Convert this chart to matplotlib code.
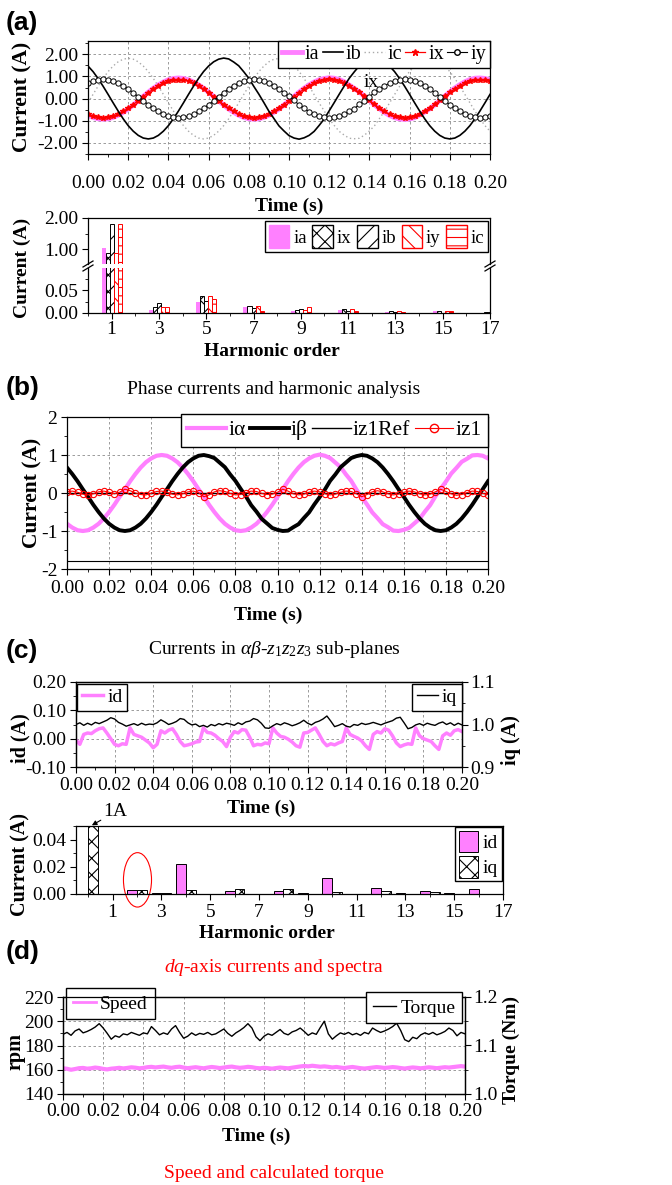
import numpy as np
import matplotlib.pyplot as plt
from matplotlib.ticker import MultipleLocator, FormatStrFormatter
from matplotlib.patches import Ellipse, Patch
from matplotlib.lines import Line2D

# ---- data ----
# (a) phase currents, one sample every 2.5 ms
ia = [-0.75, -0.85, -0.91, -0.93, -0.91, -0.85, -0.75, -0.62, -0.47, -0.29, -0.10, 0.10, 0.29, 0.47, 0.62, 0.75, 0.85, 0.91,
      0.93, 0.91, 0.85, 0.75, 0.62, 0.47, 0.29, 0.10, -0.10, -0.29, -0.47, -0.62, -0.75, -0.85, -0.91, -0.93, -0.91, -0.85,
      -0.75, -0.62, -0.47, -0.29, -0.10, 0.10, 0.29, 0.47, 0.62, 0.75, 0.85, 0.91,
      0.94, 0.92, 0.86, 0.76, 0.61, 0.46, 0.30, 0.11, -0.09, -0.28, -0.46, -0.62, -0.76, -0.86, -0.92, -0.94, -0.92, -0.86,
      -0.74, -0.61, -0.46, -0.28, -0.09, 0.11, 0.30, 0.48, 0.63, 0.76, 0.86, 0.92,
      0.93, 0.91, 0.85]
ix = [-0.70, -0.79, -0.84, -0.86, -0.84, -0.79, -0.70, -0.58, -0.43, -0.27, -0.09, 0.09, 0.27, 0.43, 0.58, 0.70, 0.79, 0.84,
      0.86, 0.84, 0.79, 0.70, 0.58, 0.43, 0.27, 0.09, -0.09, -0.27, -0.43, -0.58, -0.70, -0.79, -0.84, -0.86, -0.84, -0.79,
      -0.70, -0.58, -0.43, -0.27, -0.09, 0.09, 0.27, 0.43, 0.58, 0.70, 0.79, 0.84,
      0.87, 0.85, 0.79, 0.71, 0.57, 0.42, 0.28, 0.10, -0.08, -0.26, -0.43, -0.57, -0.71, -0.80, -0.85, -0.87, -0.85, -0.80,
      -0.69, -0.57, -0.42, -0.26, -0.08, 0.10, 0.28, 0.44, 0.59, 0.71, 0.80, 0.85,
      0.86, 0.84, 0.79]
ib = [1.47, 1.22, 0.91, 0.56, 0.19, -0.19, -0.56, -0.91, -1.22, -1.47, -1.66, -1.78, -1.82, -1.78, -1.66, -1.47, -1.22,
      -0.91, -0.56, -0.19, 0.19, 0.56, 0.91, 1.22, 1.47, 1.66, 1.78,
      1.83, 1.79, 1.65, 1.48, 1.21, 0.92, 0.55, 0.20, -0.18, -0.57, -0.90, -1.23, -1.46, -1.67, -1.78, -1.83, -1.77, -1.66,
      -1.48, -1.21, -0.92, -0.55, -0.18, 0.20, 0.57, 0.92, 1.21, 1.48, 1.65, 1.79,
      1.82, 1.78, 1.66, 1.47, 1.22, 0.91, 0.56, 0.19, -0.19, -0.56, -0.91, -1.22, -1.47, -1.66, -1.78, -1.82, -1.78, -1.66,
      -1.47, -1.22, -0.91, -0.56, -0.19, 0.19]
ic = [-0.19, 0.19, 0.56, 0.91, 1.22, 1.47, 1.66, 1.78,
      1.82, 1.78, 1.66, 1.47, 1.22, 0.91, 0.56, 0.19, -0.19, -0.56, -0.91, -1.22, -1.47, -1.66, -1.78, -1.82, -1.78, -1.66,
      -1.47, -1.22, -0.91, -0.56, -0.19, 0.19, 0.56, 0.91, 1.22, 1.47, 1.66, 1.78,
      1.81, 1.77, 1.67, 1.46, 1.23, 0.90, 0.57, 0.18, -0.20, -0.55, -0.92, -1.21, -1.48, -1.65, -1.79, -1.81, -1.79, -1.65,
      -1.46, -1.23, -0.90, -0.57, -0.20, 0.18, 0.55, 0.92, 1.23, 1.46, 1.67, 1.77,
      1.82, 1.78, 1.66, 1.47, 1.22, 0.91, 0.56, 0.19, -0.19, -0.56, -0.91, -1.22, -1.47]
iy = [0.70, 0.79, 0.85,
      0.87, 0.85, 0.79, 0.70, 0.58, 0.44, 0.27, 0.09, -0.09, -0.27, -0.44, -0.58, -0.70, -0.79, -0.85, -0.87, -0.85, -0.79,
      -0.70, -0.58, -0.44, -0.27, -0.09, 0.09, 0.27, 0.44, 0.58, 0.70, 0.79, 0.85,
      0.88, 0.86, 0.78, 0.71, 0.57, 0.45, 0.26, 0.10, -0.08, -0.28, -0.43, -0.59, -0.69, -0.80, -0.84, -0.88, -0.84, -0.80,
      -0.71, -0.57, -0.45, -0.26, -0.10, 0.08, 0.28, 0.43, 0.59, 0.69, 0.80, 0.86,
      0.87, 0.85, 0.79, 0.70, 0.58, 0.44, 0.27, 0.09, -0.09, -0.27, -0.44, -0.58, -0.70, -0.79, -0.85, -0.87, -0.85, -0.79]

# (a) harmonic spectrum
harm_a = [1, 3, 5, 7, 9, 11, 13, 15, 17]
ia_h = [1.03, 0.007, 0.025, 0.013, 0.005, 0.007, 0.003, 0.004, 0.0005]
ix_h = [0.88, 0.013, 0.037, 0.016, 0.007, 0.009, 0.005, 0.004, 0.003]
ib_h = [1.82, 0.021, 0.027, 0.011, 0.009, 0.005, 0.002, 0.001, 0.003]
iy_h = [0.88, 0.013, 0.037, 0.016, 0.007, 0.009, 0.005, 0.004, 0.001]
ic_h = [1.82, 0.014, 0.030, 0.004, 0.013, 0.004, 0.003, 0.004, 0.0005]

# (b) alpha-beta / z1 currents
i_alpha = [-0.81, -0.91, -0.98, -1.00, -0.98, -0.91, -0.81, -0.67, -0.50, -0.31, -0.10, 0.10, 0.31, 0.50, 0.67, 0.81, 0.91, 0.98,
           1.00, 0.98, 0.91, 0.81, 0.67, 0.50, 0.31, 0.10, -0.10, -0.31, -0.50, -0.67, -0.81, -0.91, -0.98, -1.00, -0.98, -0.91,
           -0.81, -0.67, -0.50, -0.31, -0.10, 0.10, 0.31, 0.50, 0.67, 0.81, 0.91, 0.98,
           1.01, 0.98, 0.92, 0.80, 0.68, 0.49, 0.32, 0.09, -0.11, -0.30, -0.51, -0.66, -0.82, -0.90, -0.99, -1.00, -0.97, -0.92,
           -0.80, -0.68, -0.49, -0.32, -0.09, 0.11, 0.30, 0.51, 0.66, 0.82, 0.90, 0.99,
           1.00, 0.98, 0.91]
i_beta = [0.67, 0.50, 0.31, 0.10, -0.10, -0.31, -0.50, -0.67, -0.81, -0.91, -0.98, -1.00, -0.98, -0.91, -0.81, -0.67, -0.50,
          -0.31, -0.10, 0.10, 0.31, 0.50, 0.67, 0.81, 0.91, 0.98,
          1.00, 0.97, 0.92, 0.80, 0.68, 0.49, 0.32, 0.11, -0.09, -0.32, -0.49, -0.68, -0.80, -0.92, -0.97, -1.00, -0.99, -0.90,
          -0.82, -0.66, -0.51, -0.30, -0.11, 0.09, 0.32, 0.49, 0.68, 0.80, 0.92, 0.97,
          1.00, 0.98, 0.91, 0.81, 0.67, 0.50, 0.31, 0.10, -0.10, -0.31, -0.50, -0.67, -0.81, -0.91, -0.98, -1.00, -0.98, -0.91,
          -0.81, -0.67, -0.50, -0.31, -0.10, 0.10, 0.31]
iz1 = [0.03, 0.05, 0.02, -0.03, -0.05, -0.02, 0.03, 0.05, 0.02, -0.02, 0.02,
       0.10, 0.06, 0.00, -0.04, -0.05, -0.01, 0.04, 0.05, 0.02, -0.03, -0.05, -0.02, 0.03, 0.05, 0.01,
       -0.10, -0.05, 0.03, 0.06, 0.04, -0.01, -0.05, -0.04, 0.01, 0.05, 0.04, -0.01, -0.04, -0.03, 0.02,
       0.10, 0.05, -0.02, -0.05, -0.03, 0.02, 0.05, 0.03, -0.02, -0.05, -0.03, 0.02, 0.05, 0.04, -0.02,
       -0.10, -0.04, 0.03, 0.06, 0.03, -0.02, -0.05, -0.03, 0.02, 0.05, 0.03, -0.02, -0.05, -0.03, 0.03,
       0.10, 0.04, -0.02, -0.06, -0.04, 0.01, 0.05, 0.04, -0.01, -0.04]
iz1_ref = [0.0] * 81

# (c) dq currents, one sample every 2 ms
id_t = [-0.005, -0.020, 0.015, 0.020, 0.018, 0.028, 0.035, 0.038, 0.020, 0.000,
        -0.020, -0.025, -0.018, -0.020, 0.038, 0.015, 0.010, 0.005, -0.005, -0.015,
        -0.032, -0.020, 0.028, 0.020, 0.030, 0.035, 0.015, -0.010, -0.025, -0.022,
        -0.018, -0.012, -0.010, 0.038, 0.022, 0.020, 0.012, 0.000, -0.010, -0.028,
        0.005, 0.025, 0.020, 0.032, 0.030, 0.005, -0.025, -0.020, -0.022, -0.015,
        -0.018, 0.038, 0.020, 0.008, 0.005, -0.002, -0.012, -0.025, -0.030, 0.020,
        0.022, 0.030, 0.038, 0.015, -0.010, -0.025, -0.018, -0.022, -0.015, -0.010,
        0.038, 0.015, 0.008, 0.002, -0.008, -0.025, -0.038, 0.015, 0.025, 0.020,
        0.035, 0.030, 0.010, -0.015, -0.028, -0.022, -0.018, -0.020, 0.038, 0.010,
        0.000, -0.005, -0.010, -0.025, -0.038, 0.010, 0.020, 0.012, 0.028, 0.032,
        0.025]
iq_t = [1.000, 1.004, 0.998, 1.003, 0.999, 1.005, 1.002, 1.006, 1.010, 1.016,
        1.013, 1.005, 1.001, 0.996, 0.999, 1.002, 0.998, 1.003, 0.999, 1.001,
        1.000, 1.004, 1.011, 1.006, 1.000, 1.003, 1.007, 1.014, 1.012, 1.004,
        0.999, 1.001, 0.995, 0.998, 0.994, 1.000, 0.997, 1.002, 0.999, 1.003,
        1.001, 0.998, 1.004, 1.000, 1.006, 1.008, 1.014, 1.011, 1.003, 0.992,
        0.991, 0.997, 1.002, 0.999, 1.004, 1.001, 0.997, 1.000, 1.004, 1.010,
        1.003, 0.999, 1.005, 1.008, 1.013, 1.020, 1.008, 0.995, 0.998, 1.002,
        0.996, 0.994, 1.000, 0.998, 1.003, 1.000, 1.002, 1.005, 1.002, 0.999,
        1.003, 1.006, 1.009, 1.015, 1.017, 1.004, 0.990, 0.993, 0.999, 1.002,
        0.998, 1.003, 1.000, 0.998, 1.003, 1.006, 1.000, 1.004, 0.998, 1.003,
        0.999]

# (c) dq spectrum
harm_c = list(range(17))
id_h = [0.0, 0.0003, 0.0032, 0.001, 0.0222, 0.0, 0.0022, 0.0, 0.0025, 0.001, 0.0114, 0.0, 0.0047, 0.001, 0.0025, 0.0007, 0.0037]
iq_h = [1.0, 0.0003, 0.0027, 0.0005, 0.003, 0.0, 0.004, 0.0, 0.0035, 0.0, 0.0015, 0.0, 0.0025, 0.0, 0.0012, 0.0, 0.0]

# (d) speed and torque
speed = [161.2, 160.8, 160.0, 160.6, 161.3, 161.5, 160.9, 161.2, 161.8, 161.4,
         160.7, 160.3, 160.9, 161.2, 161.6, 161.1, 161.5, 162.0, 161.7, 161.2,
         161.5, 162.1, 162.4, 161.9, 162.3, 162.6, 162.0, 161.6, 162.2, 162.5,
         161.8, 161.3, 161.7, 162.1, 161.6, 161.2, 161.8, 162.3, 161.9, 161.4,
         161.8, 162.3, 162.6, 162.0, 161.6, 161.9, 162.4, 162.1, 161.5, 161.2,
         161.6, 161.3, 160.9, 161.4, 161.8, 161.5, 161.2, 161.7, 162.2, 162.7,
         163.1, 162.8, 163.3, 162.9, 162.5, 162.8, 162.4, 161.9, 162.3, 161.8,
         161.4, 161.9, 162.3, 161.8, 161.3, 161.0, 161.4, 161.8, 162.2, 161.9,
         161.5, 161.8, 162.2, 161.9, 161.4, 161.0, 161.5, 161.9, 161.6, 161.2,
         161.6, 162.0, 161.7, 161.3, 161.7, 162.1, 161.8, 162.2, 162.6, 163.0,
         162.6]
torque = [1.123, 1.127, 1.121, 1.130, 1.134, 1.126, 1.129, 1.133, 1.138, 1.145,
          1.136, 1.125, 1.113, 1.120, 1.117, 1.124, 1.122, 1.127, 1.124, 1.121,
          1.126, 1.124, 1.139, 1.131, 1.122, 1.126, 1.123, 1.134, 1.141, 1.127,
          1.115, 1.119, 1.126, 1.121, 1.125, 1.123, 1.127, 1.122, 1.124, 1.129,
          1.134, 1.125, 1.119, 1.126, 1.131, 1.137, 1.145, 1.136, 1.118, 1.110,
          1.119, 1.124, 1.121, 1.127, 1.133, 1.125, 1.122, 1.128, 1.131, 1.136,
          1.129, 1.121, 1.126, 1.123, 1.137, 1.150, 1.124, 1.113, 1.120, 1.126,
          1.123, 1.127, 1.122, 1.125, 1.121, 1.127, 1.124, 1.136, 1.131, 1.127,
          1.130, 1.134, 1.139, 1.146, 1.131, 1.112, 1.108, 1.117, 1.114, 1.122,
          1.126, 1.123, 1.127, 1.122, 1.125, 1.129, 1.136, 1.131, 1.120, 1.127,
          1.124]

t_a = np.linspace(0, 0.2, len(ia))
t_n = np.linspace(0, 0.2, len(id_t))

# ---- style ----
W, H = 672, 1185
PINK = '#ff80ff'
RED = '#ff0000'
TICK = 14

plt.rcParams['font.family'] = ['Liberation Serif', 'DejaVu Serif']
plt.rcParams['mathtext.fontset'] = 'custom'
plt.rcParams['mathtext.rm'] = 'Liberation Serif'
plt.rcParams['mathtext.it'] = 'Liberation Serif:italic'
plt.rcParams['axes.unicode_minus'] = False
plt.rcParams['axes.linewidth'] = 0.9
plt.rcParams['legend.fancybox'] = False
plt.rcParams['legend.edgecolor'] = 'black'
plt.rcParams['legend.framealpha'] = 1
plt.rcParams['hatch.linewidth'] = 0.8


def box(l, t, r, b):
    return [l / W, 1 - b / H, (r - l) / W, (b - t) / H]


def fpt(x, y):
    return x / W, 1 - y / H


def ticks(ax, pad=3.0):
    ax.tick_params(which='major', direction='out', length=4, width=0.8, labelsize=TICK, pad=pad)
    ax.tick_params(which='minor', direction='out', length=2, width=0.6)


def grid(ax):
    ax.grid(True, which='major', color='0.55', linestyle=(0, (3, 3)), linewidth=0.6)


def xlab(ax, text, x, y, size=14):
    ax.set_xlabel(text, fontsize=size, fontweight='bold')
    ax.xaxis.set_label_coords(*fpt(x, y), transform=fig.transFigure)
    ax.xaxis.label.set_va('center')


def ylab(ax, text, x, y, size=14.5):
    ax.set_ylabel(text, fontsize=size, fontweight='bold')
    ax.yaxis.set_label_coords(*fpt(x, y), transform=fig.transFigure)
    ax.yaxis.label.set_va('center')
    ax.yaxis.label.set_rotation(90)


fig = plt.figure(figsize=(W / 100, H / 100), dpi=100)

# ---- (a) phase currents ----
ax = fig.add_axes(box(88, 41, 490, 154))
ax.plot(t_a, ic, color='#aaaaaa', lw=1.0, ls=(0, (1, 2)), label='ic')
ax.plot(t_a, ia, color=PINK, lw=3.5, label='ia')
ax.plot(t_a, ix, color=RED, lw=0.9, marker='*', ms=4, label='ix')
ax.plot(t_a, ib, color='k', lw=1.2, label='ib')
ax.plot(t_a, iy, color='k', lw=0.8, marker='o', ms=3.8, mfc='white', mec='k', mew=0.7, label='iy')
ax.text(0.141, 0.74, 'ix', fontsize=14, ha='center', va='center')
ax.set_xlim(0, 0.2)
ax.set_ylim(-2.5, 2.6)
ax.xaxis.set_major_locator(MultipleLocator(0.02))
ax.xaxis.set_minor_locator(MultipleLocator(0.01))
ax.yaxis.set_major_locator(MultipleLocator(1))
ax.yaxis.set_minor_locator(MultipleLocator(0.5))
ax.xaxis.set_major_formatter(FormatStrFormatter('%.2f'))
ax.yaxis.set_major_formatter(FormatStrFormatter('%.2f'))
ticks(ax)
ax.tick_params(axis='x', which='major', pad=11)
grid(ax)
hs = [Line2D([], [], color=PINK, lw=3.5),
      Line2D([], [], color='k', lw=1.2),
      Line2D([], [], color='#aaaaaa', lw=1.0, ls=(0, (1, 2))),
      Line2D([], [], color=RED, lw=0.9, marker='*', ms=5),
      Line2D([], [], color='k', lw=0.8, marker='o', ms=4, mfc='white')]
ax.legend(hs, ['ia', 'ib', 'ic', 'ix', 'iy'], loc='upper right', bbox_to_anchor=(1, 1), borderaxespad=0,
          ncol=5, fontsize=14.5, handlelength=1.0, handletextpad=0.15, columnspacing=0.15, borderpad=0.2)
xlab(ax, 'Time (s)', 289, 206)
ylab(ax, 'Current (A)', 22, 97, size=15.5)

# ---- (a) harmonic spectrum with broken axis ----
ax_u = fig.add_axes(box(88, 218, 490, 264))
ax_l = fig.add_axes(box(88, 268, 490, 313))
bw = 0.17
bar_specs = [(ia_h, dict(color=PINK, linewidth=0)),
             (ix_h, dict(facecolor='white', edgecolor='k', hatch='xx', linewidth=0.7)),
             (ib_h, dict(facecolor='white', edgecolor='k', hatch='//', linewidth=0.7)),
             (iy_h, dict(facecolor='white', edgecolor=RED, hatch='\\\\', linewidth=0.7)),
             (ic_h, dict(facecolor='white', edgecolor=RED, hatch='--', linewidth=0.7))]
for a in (ax_u, ax_l):
    for j, (vals, kw) in enumerate(bar_specs):
        a.bar(np.array(harm_a) + (j - 2) * bw, vals, width=bw, **kw)
    a.set_xlim(0, 17)
    a.set_xticks(harm_a)
    a.set_xticks(range(0, 18, 2), minor=True)
    ticks(a)
ax_u.set_ylim(0.52, 2.0)
ax_u.yaxis.set_major_locator(MultipleLocator(1))
ax_u.yaxis.set_minor_locator(MultipleLocator(0.5))
ax_u.yaxis.set_major_formatter(FormatStrFormatter('%.2f'))
ax_u.spines['bottom'].set_visible(False)
ax_u.tick_params(axis='x', which='both', bottom=False, labelbottom=False)
ax_l.set_ylim(0, 0.098)
ax_l.yaxis.set_major_locator(MultipleLocator(0.05))
ax_l.yaxis.set_minor_locator(MultipleLocator(0.025))
ax_l.yaxis.set_major_formatter(FormatStrFormatter('%.2f'))
ax_l.spines['top'].set_visible(False)
ax_l.tick_params(axis='x', which='major', pad=2)
for yb in (264, 268):
    for xb in (88, 490):
        fig.add_artist(Line2D([(xb - 5) / W, (xb + 5) / W], [1 - (yb + 3) / H, 1 - (yb - 3) / H],
                              color='k', lw=0.9, transform=fig.transFigure))
ph = [Patch(color=PINK),
      Patch(facecolor='white', edgecolor='k', hatch='xx'),
      Patch(facecolor='white', edgecolor='k', hatch='//'),
      Patch(facecolor='white', edgecolor=RED, hatch='\\\\'),
      Patch(facecolor='white', edgecolor=RED, hatch='--')]
ax_u.legend(ph, ['ia', 'ix', 'ib', 'iy', 'ic'], loc='upper right', bbox_to_anchor=(0.995, 0.93), borderaxespad=0,
            ncol=5, fontsize=13.5, handlelength=1.1, handleheight=1.5, handletextpad=0.2, columnspacing=0.3,
            borderpad=0.2)
xlab(ax_l, 'Harmonic order', 272, 352)
ylab(ax_l, 'Current (A)', 22, 268, size=14)

# ---- (b) ----
ax = fig.add_axes(box(67, 417, 488, 569))
ax.plot(t_a, i_alpha, color=PINK, lw=3)
ax.plot(t_a, i_beta, color='k', lw=2.8)
ax.plot(t_a, iz1_ref, color='k', lw=1)
ax.plot(t_a, iz1, color=RED, lw=0.8, marker='o', ms=4.5, mfc='none', mec=RED, mew=0.8)
ax.axhline(-1.79, color='k', lw=0.8)
ax.set_xlim(0, 0.2)
ax.set_ylim(-2, 2)
ax.xaxis.set_major_locator(MultipleLocator(0.02))
ax.xaxis.set_minor_locator(MultipleLocator(0.01))
ax.yaxis.set_major_locator(MultipleLocator(1))
ax.yaxis.set_minor_locator(MultipleLocator(0.5))
ax.xaxis.set_major_formatter(FormatStrFormatter('%.2f'))
ticks(ax)
ax.tick_params(axis='x', which='major', pad=4)
grid(ax)
hs = [Line2D([], [], color=PINK, lw=3),
      Line2D([], [], color='k', lw=2.8),
      Line2D([], [], color='k', lw=1),
      Line2D([], [], color=RED, lw=0.8, marker='o', ms=6, mfc='none')]
ax.legend(hs, ['iα', 'iβ', 'iz1Ref', 'iz1'], loc='upper right', bbox_to_anchor=(1, 1.02), borderaxespad=0,
          ncol=4, fontsize=15.5, handlelength=1.8, handletextpad=0.1, columnspacing=0.2, borderpad=0.3)
xlab(ax, 'Time (s)', 268, 615)
ylab(ax, 'Current (A)', 32, 493, size=15.5)

# ---- (c) dq currents ----
ax = fig.add_axes(box(76, 682, 462, 767))
ax.plot(t_n, id_t, color=PINK, lw=2.5, label='id')
ax.set_xlim(0, 0.2)
ax.set_ylim(-0.1, 0.2)
ax.xaxis.set_major_locator(MultipleLocator(0.02))
ax.xaxis.set_minor_locator(MultipleLocator(0.01))
ax.yaxis.set_major_locator(MultipleLocator(0.1))
ax.yaxis.set_minor_locator(MultipleLocator(0.05))
ax.xaxis.set_major_formatter(FormatStrFormatter('%.2f'))
ax.yaxis.set_major_formatter(FormatStrFormatter('%.2f'))
ticks(ax)
ax.tick_params(axis='x', which='major', pad=3)
grid(ax)
ax.legend(loc='upper left', bbox_to_anchor=(0.003, 0.98), borderaxespad=0, fontsize=14,
          handlelength=1.1, handletextpad=0.2, borderpad=0.25)
tw = ax.twinx()
tw.plot(t_n, iq_t, color='k', lw=1.0, label='iq')
tw.set_ylim(0.9, 1.1)
tw.yaxis.set_major_locator(MultipleLocator(0.1))
tw.yaxis.set_minor_locator(MultipleLocator(0.05))
tw.yaxis.set_major_formatter(FormatStrFormatter('%.1f'))
ticks(tw, pad=2)
tw.legend(loc='upper right', bbox_to_anchor=(1.0, 0.98), borderaxespad=0, fontsize=14,
          handlelength=1.1, handletextpad=0.2, borderpad=0.25)
xlab(ax, 'Time (s)', 261, 808)
ylab(ax, 'id (A)', 20, 738)
ylab(tw, 'iq (A)', 511, 740)

# ---- (c) dq spectrum ----
ax = fig.add_axes(box(76, 826, 503, 894))
hc = np.array(harm_c)
ax.bar(hc - 0.2, id_h, width=0.4, color=PINK, edgecolor='k', linewidth=0.7, label='id')
ax.bar(hc + 0.2, iq_h, width=0.4, facecolor='white', edgecolor='k', hatch='xx', linewidth=0.7, label='iq')
ax.set_xlim(-0.5, 17)
ax.set_ylim(0, 0.05)
ax.set_xticks(range(1, 18, 2))
ax.set_xticks(range(0, 17, 2), minor=True)
ax.yaxis.set_major_locator(MultipleLocator(0.02))
ax.yaxis.set_minor_locator(MultipleLocator(0.01))
ax.yaxis.set_major_formatter(FormatStrFormatter('%.2f'))
ticks(ax)
ax.tick_params(axis='x', which='major', pad=3)
ax.add_patch(Ellipse((2.02, 0.0104), 1.15, 0.040, fill=False, edgecolor=RED, lw=0.8, clip_on=False))
ax.annotate('1A', xy=(0.15, 0.0505), xytext=(0.63, 0.0605), fontsize=14, ha='left', va='center',
            annotation_clip=False,
            arrowprops=dict(arrowstyle='-|>', color='k', lw=0.8, mutation_scale=7, shrinkA=0, shrinkB=0))
ax.legend(loc='upper right', bbox_to_anchor=(0.998, 0.98), borderaxespad=0, fontsize=14,
          handlelength=1.0, handleheight=1.3, handletextpad=0.25, borderpad=0.2, labelspacing=0.2)
xlab(ax, 'Harmonic order', 267, 934)
ylab(ax, 'Current (A)', 20, 865)

# ---- (d) speed and torque ----
ax = fig.add_axes(box(63, 997, 465, 1094))
ax.plot(t_n, speed, color=PINK, lw=3)
ax.set_xlim(0, 0.2)
ax.set_ylim(140, 220)
ax.xaxis.set_major_locator(MultipleLocator(0.02))
ax.xaxis.set_minor_locator(MultipleLocator(0.01))
ax.yaxis.set_major_locator(MultipleLocator(20))
ax.yaxis.set_minor_locator(MultipleLocator(10))
ax.xaxis.set_major_formatter(FormatStrFormatter('%.2f'))
ticks(ax)
ax.tick_params(axis='x', which='major', pad=2.5)
grid(ax)
ax.legend([Line2D([], [], color=PINK, lw=2)], ['Speed'], loc='upper left', bbox_to_anchor=(0.008, 1.09),
          borderaxespad=0, fontsize=14, handlelength=1.2, handletextpad=0.2, borderpad=0.35)
tw = ax.twinx()
tw.plot(t_n, torque, color='k', lw=1.0, label='Torque')
tw.set_ylim(1.0, 1.2)
tw.yaxis.set_major_locator(MultipleLocator(0.1))
tw.yaxis.set_minor_locator(MultipleLocator(0.05))
tw.yaxis.set_major_formatter(FormatStrFormatter('%.1f'))
ticks(tw, pad=2)
tw.legend(loc='upper right', bbox_to_anchor=(0.993, 1.05), borderaxespad=0, fontsize=14,
          handlelength=1.2, handletextpad=0.2, borderpad=0.35)
xlab(ax, 'Time (s)', 256, 1136)
ylab(ax, 'rpm', 15, 1052)
ylab(tw, 'Torque (Nm)', 511, 1050, size=14)

# ---- panel letters and captions ----
for lab, y in (('(a)', 23), ('(b)', 388), ('(c)', 651), ('(d)', 952)):
    fig.text(*fpt(6, y), lab, fontsize=19, fontweight='bold', family='Liberation Sans', va='center')
fig.text(*fpt(274, 390), 'Phase currents and harmonic analysis', fontsize=14, ha='center', va='center')
fig.text(*fpt(274, 650), r'Currents in $\alpha\beta$-$\mathit{z_{1}z_{2}z_{3}}$ sub-planes', fontsize=14,
         ha='center', va='center')
fig.text(*fpt(274, 967), r'$dq$-axis currents and spectra', fontsize=14, ha='center', va='center', color=RED)
fig.text(*fpt(274, 1173), 'Speed and calculated torque', fontsize=14, ha='center', va='center', color=RED)

fig.savefig('out.png', dpi=100)
